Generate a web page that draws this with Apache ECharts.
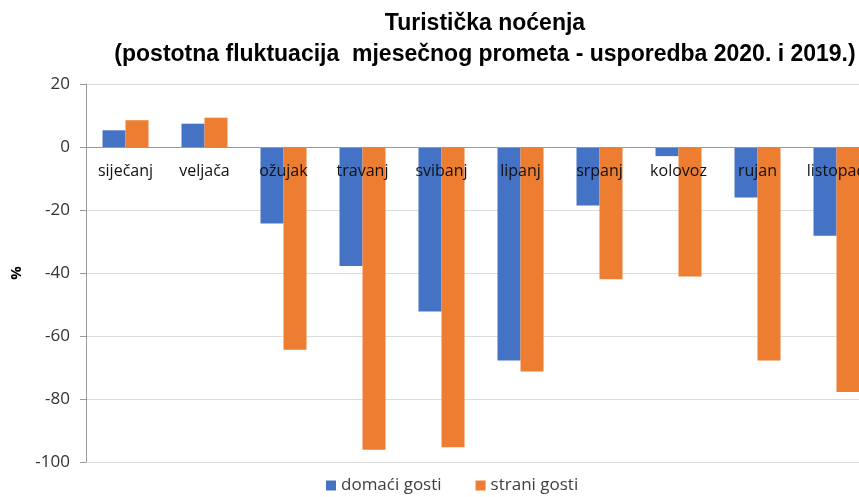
<!DOCTYPE html>
<html>
<head>
<meta charset="utf-8">
<script src="https://cdn.jsdelivr.net/npm/echarts@6/dist/echarts.min.js"></script>
<style>
  html, body { margin: 0; padding: 0; background: #fff; }
  #chart { width: 859px; height: 497px; }
</style>
</head>
<body>
<div id="chart"></div>
<script>
const months = ['siječanj', 'veljača', 'ožujak', 'travanj', 'svibanj', 'lipanj', 'srpanj', 'kolovoz', 'rujan', 'listopad']
const domaci = [5.3, 7.4, -24.3, -37.8, -52.2, -67.8, -18.6, -2.9, -16.0, -28.2]
const strani = [8.5, 9.3, -64.4, -96.1, -95.3, -71.3, -42.0, -41.1, -67.8, -77.8]

const font = '"Open Sans", "DejaVu Sans", sans-serif'

const chart = echarts.init(document.getElementById('chart'))
chart.setOption({
  animation: false,
  color: ['#4472C4', '#ED7D31'],
  title: {
    text: 'Turistička noćenja\n(postotna fluktuacija  mjesečnog prometa - usporedba 2020. i 2019.)',
    left: 480,
    top: 3,
    textAlign: 'center',
    textStyle: {
      fontFamily: '"Liberation Sans Narrow", "Liberation Sans", sans-serif',
      fontSize: 23,
      fontWeight: 'bold',
      color: '#000',
      lineHeight: 31,
    },
  },
  legend: {
    bottom: -2,
    left: 321,
    itemWidth: 10,
    itemHeight: 10,
    itemGap: 34,
    icon: 'rect',
    textStyle: { fontFamily: font, fontSize: 17, color: '#404040' },
    data: ['domaći gosti', 'strani gosti'],
  },
  grid: { left: 86, right: -17, top: 84, bottom: 35, outerBoundsMode: 'none', containLabel: false },
  xAxis: {
    type: 'category',
    data: months,
    position: 'top',
    offset: -63,
    axisLine: { onZero: false, lineStyle: { color: '#999' } },
    axisTick: { show: false },
    axisLabel: {
      inside: true,
      interval: 0,
      margin: 16,
      fontFamily: font,
      fontSize: 16,
      color: '#111',
    },
    z: 10,
  },
  yAxis: {
    type: 'value',
    min: -100,
    max: 20,
    interval: 20,
    name: '%',
    nameLocation: 'middle',
    nameGap: 60,
    nameRotate: 90,
    nameTextStyle: { fontFamily: font, fontSize: 15, fontWeight: 'bold', color: '#000' },
    axisLine: { show: true, lineStyle: { color: '#999' } },
    axisTick: { show: true, length: 6, lineStyle: { color: '#999' } },
    axisLabel: { fontFamily: font, fontSize: 17, color: '#333', margin: 16 },
    splitLine: { lineStyle: { color: '#dcdcdc' } },
  },
  series: [
    { name: 'domaći gosti', type: 'bar', data: domaci, barWidth: 23, barGap: '0%' },
    { name: 'strani gosti', type: 'bar', data: strani, barWidth: 23, barGap: '0%' },
  ],
})
</script>
</body>
</html>
